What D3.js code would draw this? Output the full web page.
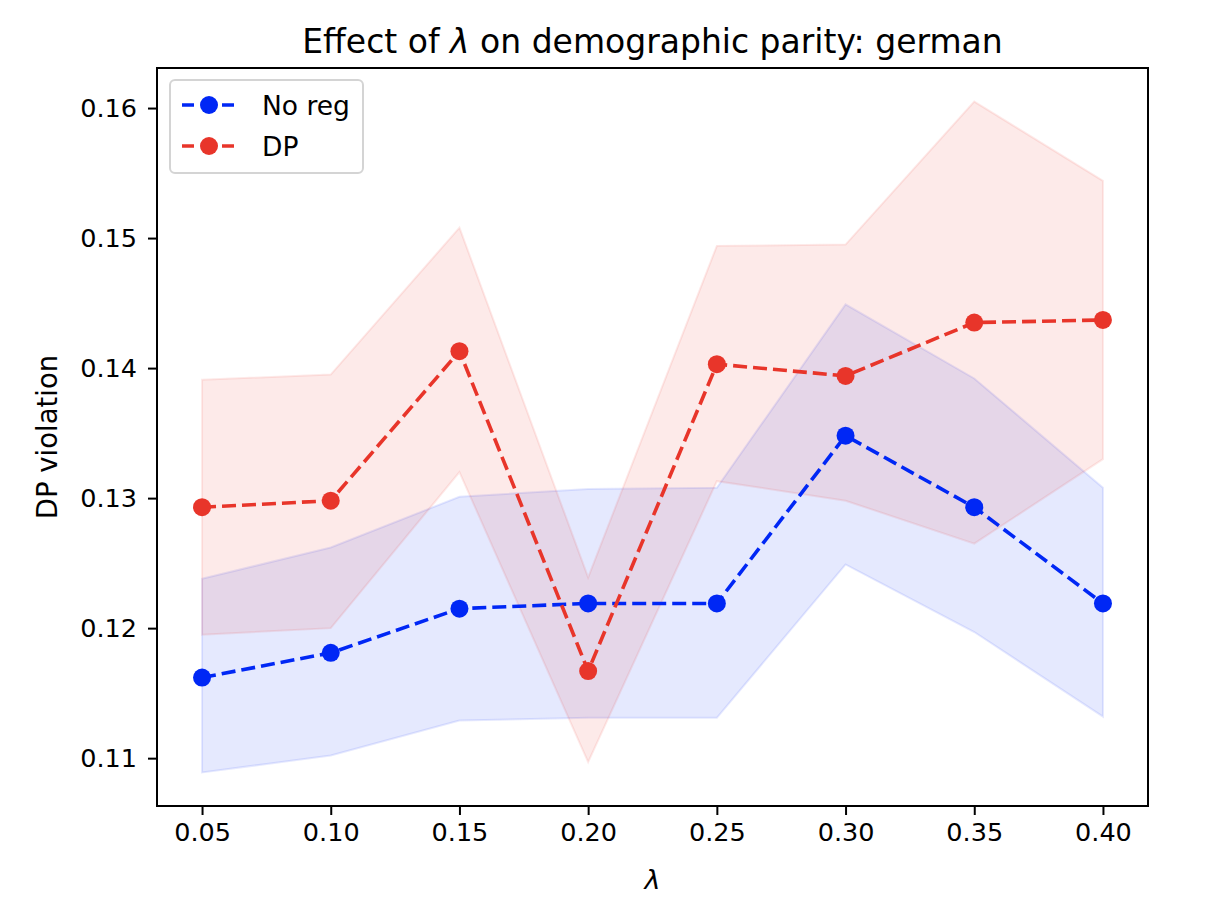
<!DOCTYPE html>
<html>
<head>
<meta charset="utf-8">
<script src="https://cdn.jsdelivr.net/npm/d3@7"></script>
<style>
  html, body { margin: 0; padding: 0; background: #fff; }
  svg { display: block; font-family: "DejaVu Sans", sans-serif; }
</style>
</head>
<body>
<svg id="chart" width="1222" height="914"></svg>
<script>
// ---- data ----
const lambdas = [0.05, 0.10, 0.15, 0.20, 0.25, 0.30, 0.35, 0.40];
const xTickLabels = ["0.05", "0.10", "0.15", "0.20", "0.25", "0.30", "0.35", "0.40"];
const yTicks = [0.11, 0.12, 0.13, 0.14, 0.15, 0.16];

const noRegMean  = [0.1162, 0.1181, 0.1215, 0.1219, 0.1219, 0.1348, 0.1293, 0.1219];
const noRegUpper = [0.1238, 0.1262, 0.1301, 0.1307, 0.1308, 0.1449, 0.1392, 0.1308];
const noRegLower = [0.1089, 0.1102, 0.1129, 0.1131, 0.1131, 0.1249, 0.1197, 0.1132];

const dpMean  = [0.1293, 0.1298, 0.1413, 0.1167, 0.1403, 0.1394, 0.1435, 0.1437];
const dpUpper = [0.1391, 0.1395, 0.1508, 0.1239, 0.1494, 0.1495, 0.1605, 0.1544];
const dpLower = [0.1195, 0.1200, 0.1320, 0.1097, 0.1313, 0.1298, 0.1265, 0.1330];

const seriesNames = ["No reg", "DP"];
const seriesColors = ["#0027f5", "#e8352a"];

// ---- layout ----
const svg = d3.select("#chart");
const L = 157, R = 1148, T = 68, B = 806;
const fontTick = 25.5;

const xMin = d3.min(lambdas), xMax = d3.max(lambdas);
const xPad = (xMax - xMin) * 0.05;
const allY = noRegUpper.concat(noRegLower, dpUpper, dpLower);
const yMin = d3.min(allY), yMax = d3.max(allY);
const yPad = (yMax - yMin) * 0.05;

const x = d3.scaleLinear().domain([xMin - xPad, xMax + xPad]).range([L, R]);
const y = d3.scaleLinear().domain([yMin - yPad, yMax + yPad]).range([B, T]);

const series = [
  { name: seriesNames[0], color: seriesColors[0], mean: noRegMean, lo: noRegLower, hi: noRegUpper },
  { name: seriesNames[1], color: seriesColors[1], mean: dpMean, lo: dpLower, hi: dpUpper }
];

const plot = svg.append("g");

// bands
const area = d3.area().x(d => x(d.x)).y0(d => y(d.lo)).y1(d => y(d.hi));
series.forEach(s => {
  const pts = lambdas.map((v, i) => ({ x: v, lo: s.lo[i], hi: s.hi[i] }));
  plot.append("path")
    .attr("d", area(pts))
    .attr("fill", s.color).attr("fill-opacity", 0.1)
    .attr("stroke", s.color).attr("stroke-opacity", 0.1).attr("stroke-width", 2);
});

// lines + markers
const line = d3.line().x(d => x(d.x)).y(d => y(d.y));
series.forEach(s => {
  const pts = lambdas.map((v, i) => ({ x: v, y: s.mean[i] }));
  plot.append("path")
    .attr("d", line(pts))
    .attr("fill", "none").attr("stroke", s.color)
    .attr("stroke-width", 3.6).attr("stroke-dasharray", "14,6");
  plot.selectAll(null).data(pts).enter().append("circle")
    .attr("cx", d => x(d.x)).attr("cy", d => y(d.y)).attr("r", 9)
    .attr("fill", s.color);
});

// axes
const xAxis = d3.axisBottom(x).tickValues(lambdas)
  .tickFormat((d, i) => xTickLabels[i]).tickSize(9).tickPadding(8);
const gx = svg.append("g").attr("transform", `translate(0,${B})`).call(xAxis);
const yAxis = d3.axisLeft(y).tickValues(yTicks)
  .tickFormat(d3.format(".2f")).tickSize(9).tickPadding(11);
const gy = svg.append("g").attr("transform", `translate(${L},0)`).call(yAxis);
[gx, gy].forEach(g => {
  g.select(".domain").remove();
  g.selectAll(".tick line").attr("stroke", "#000").attr("stroke-width", 2);
  g.selectAll(".tick text").attr("fill", "#000").style("font-size", fontTick + "px")
    .style("font-family", "DejaVu Sans, sans-serif");
});

// frame
svg.append("rect").attr("x", L).attr("y", T).attr("width", R - L).attr("height", B - T)
  .attr("fill", "none").attr("stroke", "#000").attr("stroke-width", 2);

// title
const title = svg.append("text").attr("x", (L + R) / 2).attr("y", 53)
  .attr("text-anchor", "middle").style("font-size", "33px").attr("fill", "#000");
title.append("tspan").text("Effect of ");
title.append("tspan").style("font-style", "italic").text("λ");
title.append("tspan").text(" on demographic parity: german");

// axis labels
svg.append("text").attr("x", (L + R) / 2).attr("y", 889).attr("text-anchor", "middle")
  .style("font-size", "27px").style("font-style", "italic").text("λ");
svg.append("text").attr("transform", `translate(57,${(T + B) / 2}) rotate(-90)`)
  .attr("text-anchor", "middle").style("font-size", "27.5px").text("DP violation");

// legend
const lg = svg.append("g");
lg.append("rect").attr("x", 170).attr("y", 80).attr("width", 193).attr("height", 93)
  .attr("rx", 5).attr("fill", "#fff").attr("fill-opacity", 0.8)
  .attr("stroke", "#d4d4d4").attr("stroke-width", 2);
series.forEach((s, i) => {
  const cy = 105 + i * 41;
  lg.append("line").attr("x1", 182).attr("x2", 236).attr("y1", cy).attr("y2", cy)
    .attr("stroke", s.color).attr("stroke-width", 3.6).attr("stroke-dasharray", "12,8");
  lg.append("circle").attr("cx", 209).attr("cy", cy).attr("r", 9).attr("fill", s.color);
  lg.append("text").attr("x", 262).attr("y", cy + 10).style("font-size", "26.5px").text(s.name);
});
</script>
</body>
</html>
